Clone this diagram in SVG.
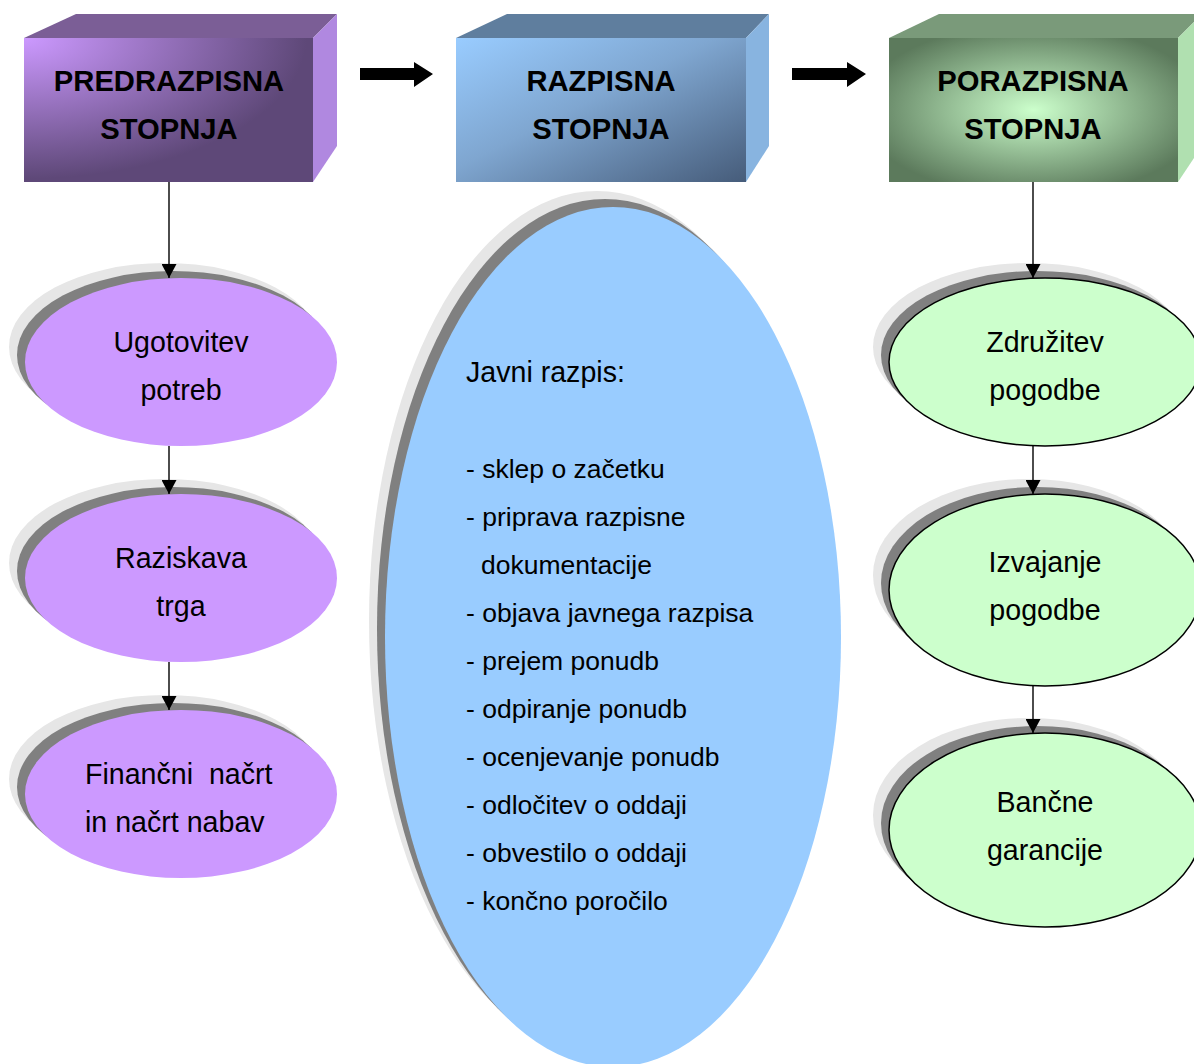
<svg xmlns="http://www.w3.org/2000/svg" width="1194" height="1064" viewBox="0 0 1194 1064">
<defs>
  <style>
    .title{font-family:"Liberation Sans",Arial,sans-serif;font-weight:bold;font-size:29.2px;fill:#000;text-anchor:middle}
    .lbl{font-family:"Liberation Sans",Arial,sans-serif;font-size:28.6px;fill:#000;text-anchor:middle}
    .lst{font-family:"Liberation Sans",Arial,sans-serif;font-size:26.5px;fill:#000}
    .sh1{fill:#E6E6E6}
    .sh2{fill:#808080}
    .conn{stroke:#000;stroke-width:1.4;fill:none}
    .blk{fill:#000}
  </style>
  <radialGradient id="g1" cx="0" cy="0" r="1.15" fx="0" fy="0">
    <stop offset="0" stop-color="#CC99FF"/>
    <stop offset="0.85" stop-color="#5E4878"/>
  </radialGradient>
  <linearGradient id="g2" x1="0" y1="0" x2="1" y2="1">
    <stop offset="0" stop-color="#99CCFF"/>
    <stop offset="0.45" stop-color="#7FA6D0"/>
    <stop offset="1" stop-color="#465C7A"/>
  </linearGradient>
  <radialGradient id="g3" cx="0.5" cy="0.5" r="0.6">
    <stop offset="0" stop-color="#CCFFCC"/>
    <stop offset="1" stop-color="#5C7A5C"/>
  </radialGradient>
  <marker id="ah" viewBox="0 0 14 15" refX="14" refY="7.5" markerWidth="14" markerHeight="15" markerUnits="userSpaceOnUse" orient="auto">
    <path d="M0,0 L14,7.5 L0,15 Z" fill="#000"/>
  </marker>
</defs>
<rect width="1194" height="1064" fill="#fff"/>

<g id="box-predrazpisna">
  <polygon points="24,38 76,14 337,14 313,38" fill="#7B5E96"/>
  <polygon points="313,38 337,14 337,146 313,182" fill="#B088E0"/>
  <rect x="24" y="38" width="289" height="144" fill="url(#g1)"/>
  <text class="title" x="169" y="91">PREDRAZPISNA</text>
  <text class="title" x="169" y="139">STOPNJA</text>
</g>
<g id="box-razpisna">
  <polygon points="456,38 507,14 769,14 746,38" fill="#5F7E9E"/>
  <polygon points="746,38 769,14 769,146 746,182" fill="#88B4E0"/>
  <rect x="456" y="38" width="290" height="144" fill="url(#g2)"/>
  <text class="title" x="601" y="91">RAZPISNA</text>
  <text class="title" x="601" y="139">STOPNJA</text>
</g>
<g id="box-porazpisna">
  <polygon points="889,38 939,14 1202,14 1178,38" fill="#7A9A7A"/>
  <polygon points="1178,38 1202,14 1202,146 1178,182" fill="#B0E0B0"/>
  <rect x="889" y="38" width="289" height="144" fill="url(#g3)"/>
  <text class="title" x="1033" y="91">PORAZPISNA</text>
  <text class="title" x="1033" y="139">STOPNJA</text>
</g>

<g id="n-ugotovitev">
  <ellipse class="sh1" cx="165" cy="347" rx="156" ry="84"/>
  <ellipse class="sh2" cx="173" cy="355" rx="156" ry="84"/>
  <ellipse cx="181" cy="362" rx="156" ry="84" fill="#CC99FF"/>
  <text class="lbl" x="181" y="352">Ugotovitev</text>
  <text class="lbl" x="181" y="400">potreb</text>
</g>
<g id="n-raziskava">
  <ellipse class="sh1" cx="165" cy="563" rx="156" ry="84"/>
  <ellipse class="sh2" cx="173" cy="571" rx="156" ry="84"/>
  <ellipse cx="181" cy="578" rx="156" ry="84" fill="#CC99FF"/>
  <text class="lbl" x="181" y="568">Raziskava</text>
  <text class="lbl" x="181" y="616">trga</text>
</g>
<g id="n-financni">
  <ellipse class="sh1" cx="165" cy="779" rx="156" ry="84"/>
  <ellipse class="sh2" cx="173" cy="787" rx="156" ry="84"/>
  <ellipse cx="181" cy="794" rx="156" ry="84" fill="#CC99FF"/>
  <text class="lbl" x="85" y="784" style="text-anchor:start;white-space:pre" xml:space="preserve">Finančni  načrt</text>
  <text class="lbl" x="85" y="832" style="text-anchor:start">in načrt nabav</text>
</g>

<g id="n-javni-razpis">
  <ellipse class="sh1" cx="597" cy="621" rx="228" ry="430"/>
  <ellipse class="sh2" cx="605" cy="629" rx="228" ry="430"/>
  <ellipse cx="613" cy="637" rx="228" ry="430" fill="#99CCFF"/>
  <text class="lst" x="466" y="382" style="font-size:28.6px">Javni razpis:</text>
  <text class="lst" x="466" y="478">- sklep o začetku</text>
  <text class="lst" x="466" y="526">- priprava razpisne</text>
  <text class="lst" x="481" y="574">dokumentacije</text>
  <text class="lst" x="466" y="622">- objava javnega razpisa</text>
  <text class="lst" x="466" y="670">- prejem ponudb</text>
  <text class="lst" x="466" y="718">- odpiranje ponudb</text>
  <text class="lst" x="466" y="766">- ocenjevanje ponudb</text>
  <text class="lst" x="466" y="814">- odločitev o oddaji</text>
  <text class="lst" x="466" y="862">- obvestilo o oddaji</text>
  <text class="lst" x="466" y="910">- končno poročilo</text>
</g>

<g id="n-zdruzitev">
  <ellipse class="sh1" cx="1029" cy="347" rx="156" ry="84"/>
  <ellipse class="sh2" cx="1037" cy="355" rx="156" ry="84"/>
  <ellipse cx="1045" cy="362" rx="156" ry="84" fill="#CCFFCC" stroke="#000" stroke-width="1.5"/>
  <text class="lbl" x="1045" y="352">Združitev</text>
  <text class="lbl" x="1045" y="400">pogodbe</text>
</g>
<g id="n-izvajanje">
  <ellipse class="sh1" cx="1029" cy="575" rx="156" ry="96"/>
  <ellipse class="sh2" cx="1037" cy="583" rx="156" ry="96"/>
  <ellipse cx="1045" cy="590" rx="156" ry="96" fill="#CCFFCC" stroke="#000" stroke-width="1.5"/>
  <text class="lbl" x="1045" y="572">Izvajanje</text>
  <text class="lbl" x="1045" y="620">pogodbe</text>
</g>
<g id="n-bancne">
  <ellipse class="sh1" cx="1029" cy="815" rx="156" ry="97"/>
  <ellipse class="sh2" cx="1037" cy="823" rx="156" ry="97"/>
  <ellipse cx="1045" cy="830" rx="156" ry="97" fill="#CCFFCC" stroke="#000" stroke-width="1.5"/>
  <text class="lbl" x="1045" y="812">Bančne</text>
  <text class="lbl" x="1045" y="860">garancije</text>
</g>

<g id="connectors">
  <polygon class="blk" points="360,68 414,68 414,62 433,74 414,87 414,80 360,80"/>
  <polygon class="blk" points="792,68 847,68 847,62 866,74 847,87 847,80 792,80"/>
  <line class="conn" x1="169" y1="182" x2="169" y2="278" marker-end="url(#ah)"/>
  <line class="conn" x1="169" y1="446" x2="169" y2="494" marker-end="url(#ah)"/>
  <line class="conn" x1="169" y1="662" x2="169" y2="710" marker-end="url(#ah)"/>
  <line class="conn" x1="1033" y1="182" x2="1033" y2="278" marker-end="url(#ah)"/>
  <line class="conn" x1="1033" y1="446" x2="1033" y2="494" marker-end="url(#ah)"/>
  <line class="conn" x1="1033" y1="686" x2="1033" y2="733" marker-end="url(#ah)"/>
</g>
</svg>
